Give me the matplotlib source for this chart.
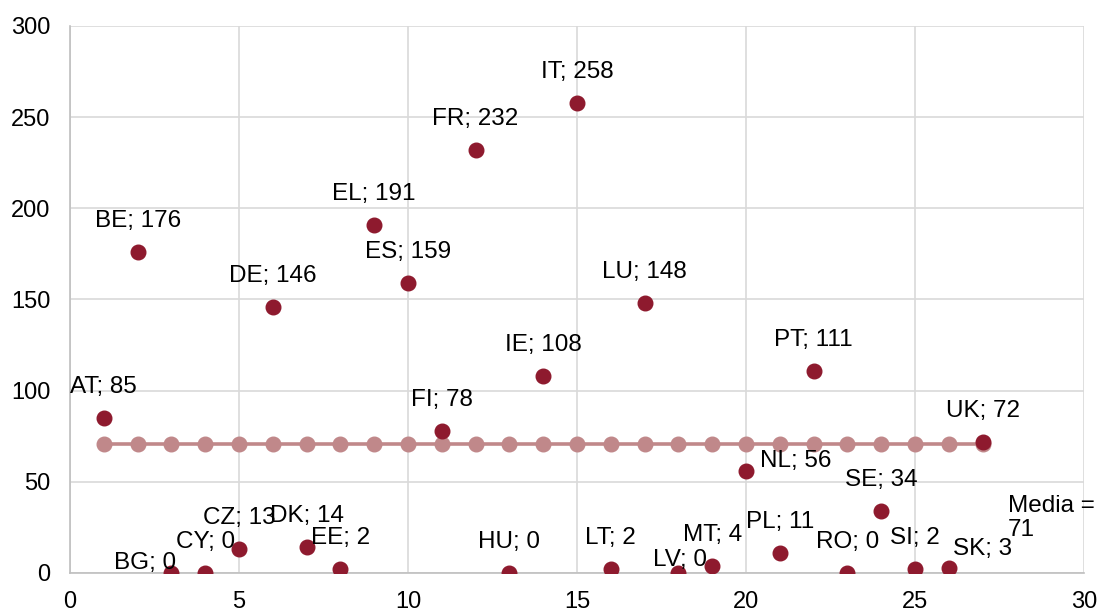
import numpy as np
import matplotlib
matplotlib.use("Agg")
import matplotlib.pyplot as plt

plt.rcParams['font.family'] = ['Liberation Sans', 'DejaVu Sans']

# dati: paesi e valori
paesi = ["AT", "BE", "BG", "CY", "CZ", "DE", "DK", "EE", "EL", "ES", "FI", "FR", "HU", "IE",
         "IT", "LT", "LU", "LV", "MT", "NL", "PL", "PT", "RO", "SE", "SI", "SK", "UK"]
valori = [85, 176, 0, 0, 13, 146, 14, 2, 191, 159, 78, 232, 0, 108,
          258, 2, 148, 0, 4, 56, 11, 111, 0, 34, 2, 3, 72]
posizioni = list(range(1, len(paesi) + 1))
media = np.mean(valori)

# spostamento delle etichette (pixel), di default sopra il punto
sopra = (0, 31)
spost_etichette = {"BG": (-26, 10), "LV": (2, 13), "NL": (50, 10), "SK": (34, 19)}

rosso = "#8E1A2E"
rosa = "#C0888A"

fig = plt.figure(figsize=(11, 6.13), dpi=100)
ax = fig.add_axes([0.0636, 0.0653, 0.9219, 0.8923])

# linea della media
ax.plot(posizioni, [media] * len(posizioni), color=rosa, lw=2.6, marker='o',
        markersize=10.5, zorder=3)

# punti dei paesi
ax.plot(posizioni, valori, linestyle='none', marker='o', color=rosso,
        markersize=10.5, zorder=4)

for p, x, v in zip(paesi, posizioni, valori):
    dx, dy = spost_etichette.get(p, sopra)
    ax.annotate(f"{p}; {v}", (x, v), xytext=(dx, dy), textcoords='offset pixels',
                ha='center', va='center', fontsize=17.5, color='black', zorder=5)

ax.annotate(f"Media =\n{round(media)}", (posizioni[-1], media), xytext=(25, -74),
            textcoords='offset pixels', ha='left', va='center', fontsize=17.5,
            linespacing=1.1, annotation_clip=False)

ax.set_xlim(0, 30)
ax.set_ylim(0, 300)
ax.set_xticks(range(0, 31, 5))
ax.set_yticks(range(0, 301, 50))
ax.tick_params(axis='both', length=0, labelsize=17)
ax.tick_params(axis='y', pad=14)
ax.tick_params(axis='x', pad=13)
ax.grid(True, color='#D9D9D9', lw=1.2)
ax.set_axisbelow(True)
for s in ['top', 'right']:
    ax.spines[s].set_visible(False)
for s in ['left', 'bottom']:
    ax.spines[s].set_color('#BFBFBF')
    ax.spines[s].set_linewidth(1.2)

fig.savefig("out.png", dpi=100)
